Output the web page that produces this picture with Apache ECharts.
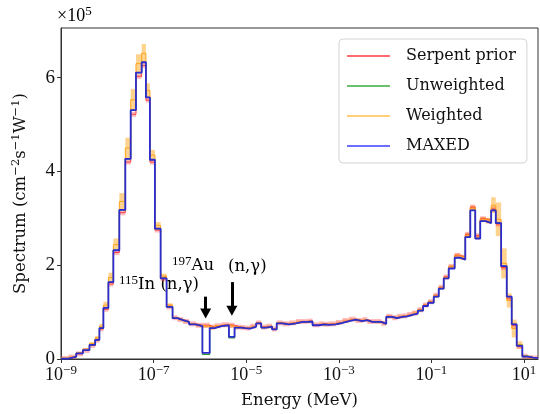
<!DOCTYPE html>
<html>
<head>
<meta charset="utf-8">
<script src="https://cdn.jsdelivr.net/npm/echarts@6/dist/echarts.min.js"></script>
<style>
  html, body { margin: 0; padding: 0; background: #fff; }
  #chart { width: 540px; height: 414px; }
</style>
</head>
<body>
<div id="chart"></div>
<script>
// bin edges, log10(E / MeV)
const edgeExp = [
  -9.000, -8.837, -8.671, -8.527, -8.385, -8.262, -8.170, -8.084, -7.976, -7.869,
  -7.740, -7.611, -7.495, -7.381, -7.258, -7.166, -7.080, -6.972, -6.849, -6.720,
  -6.591, -6.484, -6.363, -6.234, -6.090, -5.946, -5.789, -5.682, -5.538, -5.374,
  -5.252, -5.108, -5.015, -4.914, -4.785, -4.677, -4.570, -4.441, -4.342, -4.213,
  -4.069, -3.925, -3.783, -3.675, -3.568, -3.424, -3.316, -3.209, -3.065, -2.923,
  -2.778, -2.634, -2.492, -2.385, -2.277, -2.176, -2.080, -1.976, -1.847, -1.740,
  -1.632, -1.525, -1.417, -1.295, -1.181, -1.073, -0.951, -0.843, -0.735, -0.628,
  -0.499, -0.376, -0.269, -0.161, -0.054, 0.054, 0.174, 0.290, 0.389, 0.505,
  0.626, 0.733, 0.841, 0.963, 1.077, 1.194, 1.301
]

// spectra, units of 1e5 cm^-2 s^-1 W^-1
const maxed = [
  0.01, 0.05, 0.12, 0.19, 0.30, 0.41, 0.66, 1.09, 1.64, 2.32,
  3.18, 4.27, 5.31, 6.11, 6.33, 5.58, 4.25, 2.78, 1.72, 1.11,
  0.87, 0.83, 0.79, 0.74, 0.70, 0.13, 0.66, 0.70, 0.72, 0.47,
  0.67, 0.66, 0.65, 0.69, 0.76, 0.67, 0.69, 0.63, 0.76, 0.74,
  0.76, 0.79, 0.79, 0.80, 0.72, 0.74, 0.73, 0.74, 0.77, 0.81,
  0.84, 0.81, 0.83, 0.79, 0.79, 0.79, 0.75, 0.90, 0.87, 0.90,
  0.91, 0.94, 0.97, 1.03, 1.13, 1.20, 1.33, 1.50, 1.72, 1.93,
  2.16, 2.12, 2.60, 3.17, 2.57, 2.94, 2.90, 3.17, 2.90, 1.98,
  1.33, 0.74, 0.28, 0.05, 0.03, 0.02
]
const unweighted = [
  0.01, 0.05, 0.12, 0.19, 0.30, 0.41, 0.66, 1.09, 1.64, 2.32,
  3.18, 4.27, 5.31, 6.11, 6.33, 5.58, 4.25, 2.78, 1.72, 1.11,
  0.87, 0.83, 0.79, 0.74, 0.70, 0.10, 0.66, 0.70, 0.72, 0.45,
  0.67, 0.66, 0.65, 0.69, 0.76, 0.67, 0.69, 0.63, 0.76, 0.74,
  0.76, 0.79, 0.79, 0.80, 0.72, 0.74, 0.73, 0.74, 0.77, 0.81,
  0.84, 0.81, 0.83, 0.79, 0.79, 0.79, 0.75, 0.90, 0.87, 0.90,
  0.91, 0.94, 0.97, 1.03, 1.13, 1.20, 1.33, 1.50, 1.72, 1.93,
  2.16, 2.12, 2.60, 3.17, 2.57, 2.94, 2.90, 3.17, 2.90, 1.98,
  1.33, 0.74, 0.30, 0.06, 0.03, 0.02
]
const prior = [
  0.01, 0.04, 0.11, 0.18, 0.29, 0.40, 0.64, 1.06, 1.60, 2.27,
  3.12, 4.20, 5.22, 6.03, 6.26, 5.52, 4.20, 2.75, 1.71, 1.11,
  0.88, 0.84, 0.80, 0.75, 0.72, 0.72, 0.68, 0.71, 0.73, 0.72,
  0.68, 0.67, 0.66, 0.70, 0.77, 0.68, 0.70, 0.64, 0.77, 0.75,
  0.77, 0.80, 0.80, 0.81, 0.73, 0.75, 0.74, 0.75, 0.78, 0.82,
  0.85, 0.82, 0.84, 0.80, 0.80, 0.80, 0.76, 0.91, 0.88, 0.91,
  0.92, 0.95, 0.98, 1.05, 1.15, 1.22, 1.36, 1.53, 1.75, 1.97,
  2.21, 2.17, 2.66, 3.24, 2.63, 2.99, 2.95, 3.20, 2.88, 1.95,
  1.30, 0.72, 0.27, 0.06, 0.03, 0.02
]
const weighted = [
  0.02, 0.06, 0.13, 0.21, 0.33, 0.45, 0.70, 1.15, 1.74, 2.44,
  3.36, 4.50, 5.53, 6.30, 6.52, 5.73, 4.35, 2.85, 1.77, 1.15,
  0.88, 0.84, 0.80, 0.75, 0.71, 0.70, 0.66, 0.71, 0.73, 0.70,
  0.68, 0.67, 0.66, 0.70, 0.77, 0.68, 0.70, 0.64, 0.77, 0.75,
  0.77, 0.80, 0.80, 0.81, 0.73, 0.75, 0.74, 0.75, 0.78, 0.82,
  0.85, 0.82, 0.84, 0.80, 0.80, 0.80, 0.76, 0.91, 0.88, 0.91,
  0.92, 0.95, 0.99, 1.05, 1.15, 1.22, 1.35, 1.52, 1.74, 1.97,
  2.20, 2.16, 2.64, 3.22, 2.60, 2.98, 2.95, 3.28, 2.98, 2.04,
  1.25, 0.65, 0.30, 0.05, 0.02, 0.01
]
const weightedErr = [
  0.01, 0.01, 0.02, 0.02, 0.03, 0.04, 0.05, 0.07, 0.10, 0.13,
  0.18, 0.22, 0.23, 0.20, 0.20, 0.15, 0.11, 0.07, 0.05, 0.04,
  0.02, 0.02, 0.02, 0.02, 0.02, 0.03, 0.03, 0.02, 0.02, 0.03,
  0.02, 0.02, 0.02, 0.02, 0.02, 0.02, 0.02, 0.02, 0.02, 0.02,
  0.02, 0.02, 0.02, 0.02, 0.02, 0.02, 0.02, 0.02, 0.02, 0.02,
  0.02, 0.02, 0.02, 0.02, 0.02, 0.02, 0.02, 0.02, 0.02, 0.02,
  0.02, 0.02, 0.03, 0.03, 0.03, 0.03, 0.03, 0.03, 0.04, 0.04,
  0.05, 0.05, 0.05, 0.05, 0.05, 0.05, 0.06, 0.17, 0.36, 0.32,
  0.15, 0.19, 0.08, 0.02, 0.01, 0.01
]

const xTicks = [1e-9, 1e-7, 1e-5, 1e-3, 1e-1, 1e1]
const yTicks = [0, 2, 4, 6]

// resonance arrows: energy (MeV), tail and head (1e5)
const arrowE = [1.33e-6, 4.9e-6]
const arrowTop = [1.33, 1.64]
const arrowTip = [0.97, 1.03]

const WORD = 'DejaVu Serif'
const NUM = 'Liberation Serif'
const INK = '#111'
const edges = edgeExp.map(p => Math.pow(10, p))

function stepData(vals) {
  return edges.map((e, i) => [e, vals[Math.min(i, vals.length - 1)]])
}

const weightedBand = weighted.map((v, i) => [edges[i], edges[i + 1], v - weightedErr[i], v + weightedErr[i]])
const priorBand = prior.map((v, i) => [edges[i], edges[i + 1], v])

const chart = echarts.init(document.getElementById('chart'))

const numRich = {
  a: { fontFamily: NUM, fontSize: 18, color: INK },
  s: { fontFamily: NUM, fontSize: 13, color: INK, padding: [0, 0, 10, 0] }
}
const wordRich = {
  a: { fontFamily: WORD, fontSize: 16.5, color: INK },
  s: { fontFamily: WORD, fontSize: 11.5, color: INK, padding: [0, 0, 9, 0] },
  n: { fontFamily: NUM, fontSize: 13, color: INK, padding: [0, 0, 9, 0] }
}

const option = {
  animation: false,
  backgroundColor: '#fff',
  grid: { left: 61, right: 2, top: 28, bottom: 55, show: true, borderColor: '#333', borderWidth: 1 },
  legend: {
    orient: 'vertical',
    left: 339,
    top: 39,
    padding: [7, 11, 7, 8],
    backgroundColor: '#fff',
    borderColor: '#d4d4d4',
    borderWidth: 1,
    borderRadius: 4,
    itemWidth: 43,
    itemHeight: 2,
    itemGap: 10,
    textStyle: { fontFamily: WORD, fontSize: 16, color: INK, lineHeight: 20, padding: [0, 0, 0, 11] },
    data: [
      { name: 'Serpent prior', icon: 'rect', itemStyle: { color: '#ff6d6d' } },
      { name: 'Unweighted', icon: 'rect', itemStyle: { color: '#6cbf6c' } },
      { name: 'Weighted', icon: 'rect', itemStyle: { color: '#ffcf7a' } },
      { name: 'MAXED', icon: 'rect', itemStyle: { color: '#6d6dff' } }
    ]
  },
  xAxis: {
    type: 'log',
    logBase: 10,
    min: 1e-9,
    max: 20,
    name: 'Energy (MeV)',
    nameLocation: 'middle',
    nameGap: 33,
    nameTextStyle: { fontFamily: WORD, fontSize: 16.5, color: INK },
    axisLine: { show: true, lineStyle: { color: '#333' } },
    axisTick: { show: true, length: 4, lineStyle: { color: '#333' }, customValues: xTicks },
    minorTick: { show: false },
    splitLine: { show: false },
    axisLabel: {
      customValues: xTicks,
      margin: 5,
      formatter: v => {
        const p = Math.round(Math.log10(v))
        return '{a|10}{s|' + (p < 0 ? '\u2212' + (-p) : p) + '}'
      },
      rich: numRich
    }
  },
  yAxis: {
    type: 'value',
    min: 0,
    max: 7.06,
    name: '{a|Spectrum (cm}{s|\u22122}{a|s}{s|\u22121}{a|W}{s|\u22121}{a|)}',
    nameLocation: 'middle',
    nameGap: 30,
    nameRotate: 90,
    nameTextStyle: { rich: wordRich },
    axisLine: { show: true, lineStyle: { color: '#333' } },
    axisTick: { show: true, length: 4, lineStyle: { color: '#333' }, customValues: yTicks },
    splitLine: { show: false },
    axisLabel: { customValues: yTicks, margin: 6, fontFamily: NUM, fontSize: 19, color: INK }
  },
  graphic: [
    { type: 'text', left: 57, top: 5, style: { text: '{a|\u00d710}{s|5}', rich: numRich } },
    { type: 'text', left: 172, top: 255, style: { text: '{n|197}{a|Au}', rich: wordRich } },
    { type: 'text', left: 228, top: 258, style: { text: '{a|(n,\u03b3)}', rich: wordRich } },
    { type: 'text', left: 119, top: 274, style: { text: '{n|115}{a|In (n,\u03b3)}', rich: wordRich } }
  ],
  series: [
    {
      name: 'Weighted band',
      type: 'custom',
      z: 1,
      silent: true,
      clip: true,
      encode: { x: [0, 1], y: [2, 3] },
      data: weightedBand,
      renderItem: (params, api) => {
        const a = api.coord([api.value(0), api.value(3)])
        const b = api.coord([api.value(1), api.value(2)])
        return {
          type: 'rect',
          shape: { x: a[0], y: a[1], width: b[0] - a[0], height: Math.max(b[1] - a[1], 2) },
          style: { fill: 'rgba(255, 168, 30, 0.5)' }
        }
      }
    },
    {
      name: 'Prior band',
      type: 'custom',
      z: 2,
      silent: true,
      clip: true,
      encode: { x: [0, 1], y: 2 },
      data: priorBand,
      renderItem: (params, api) => {
        const a = api.coord([api.value(0), api.value(2)])
        const b = api.coord([api.value(1), api.value(2)])
        return {
          type: 'rect',
          shape: { x: a[0], y: a[1] - 2.5, width: b[0] - a[0], height: 5 },
          style: { fill: 'rgba(255, 60, 60, 0.35)' }
        }
      }
    },
    {
      name: 'Serpent prior',
      type: 'line',
      step: 'end',
      z: 3,
      symbol: 'none',
      data: stepData(prior),
      lineStyle: { color: '#ff3b3b', width: 1 }
    },
    {
      name: 'Unweighted',
      type: 'line',
      step: 'end',
      z: 4,
      symbol: 'none',
      data: stepData(unweighted),
      lineStyle: { color: '#2e9a2e', width: 1.2 }
    },
    {
      name: 'Weighted',
      type: 'line',
      step: 'end',
      z: 5,
      symbol: 'none',
      data: stepData(weighted),
      lineStyle: { color: '#ffa31a', width: 1 }
    },
    {
      name: 'MAXED',
      type: 'line',
      step: 'end',
      z: 6,
      symbol: 'none',
      data: stepData(maxed),
      lineStyle: { color: '#2d2dcf', width: 1.8 },
      markLine: {
        silent: true,
        symbol: ['none', 'triangle'],
        symbolSize: [11, 10],
        label: { show: false },
        lineStyle: { color: '#000', width: 3, type: 'solid' },
        emphasis: { disabled: true },
        data: arrowE.map((e, i) => [
          { coord: [e, arrowTop[i]] },
          { coord: [e, arrowTip[i]] }
        ])
      }
    }
  ]
}

chart.setOption(option)
</script>
</body>
</html>
